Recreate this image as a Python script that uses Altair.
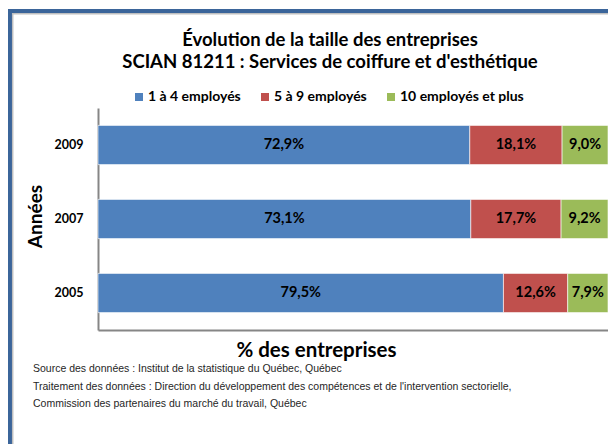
import altair as alt
import pandas as pd

years = ["2009", "2007", "2005"]
categories = ["1 à 4 employés", "5 à 9 employés", "10 employés et plus"]
v_small = [72.9, 73.1, 79.5]
v_mid = [18.1, 17.7, 12.6]
v_large = [9.0, 9.2, 7.9]
colors = ["#4F81BD", "#C0504D", "#9BBB59"]
title_lines = ["Évolution de la taille des entreprises",
               "SCIAN 81211 : Services de coiffure et d'esthétique"]
footer_lines = ["Source des données : Institut de la statistique  du Québec, Québec",
                "Traitement des données : Direction du développement  des compétences  et de l'intervention  sectorielle,",
                "Commission des partenaires du marché du travail, Québec"]

rows = []
for i, yr in enumerate(years):
    for j, (c, vals) in enumerate(zip(categories, [v_small, v_mid, v_large])):
        v = vals[i]
        rows.append({"year": yr, "cat": c, "order": j, "value": v,
                     "label": f"{v:.1f}".replace(".", ",") + "%"})
df = pd.DataFrame(rows)

base = alt.Chart(df).transform_stack(
    stack="value", groupby=["year"], as_=["x0", "x1"],
    sort=[alt.SortField("order", order="ascending")]
).transform_calculate(mid="(datum.x0 + datum.x1) / 2")

yscale = alt.Scale(paddingInner=0.47, paddingOuter=0.235)
xscale = alt.Scale(domain=[0, 100], nice=False, zero=True)

bars = base.mark_bar(stroke="white", strokeWidth=1, strokeOpacity=0.6).encode(
    x=alt.X("x0:Q", scale=xscale, axis=alt.Axis(
        title="% des entreprises", labels=False, ticks=False, grid=False,
        domainColor="#868686", domainWidth=2,
        titleFont="Lato", titleFontSize=20.5, titleFontWeight="bold", titleColor="black",
        titleX=218, titleY=20, titleBaseline="middle", titleAlign="center")),
    x2="x1:Q",
    y=alt.Y("year:N", sort=years, scale=yscale, axis=alt.Axis(
        title="Années", titleFont="Lato", titleFontSize=19, titleFontWeight="bold",
        titleColor="black", titleX=-63, titleY=108, titleAngle=270,
        titleBaseline="middle", titleAlign="center",
        labelFont="Lato", labelFontWeight="bold", labelFontSize=12.5, labelColor="black",
        labelPadding=15, ticks=False, grid=False, labelAngle=0,
        domainColor="#868686", domainWidth=2)),
    color=alt.Color("cat:N", scale=alt.Scale(domain=categories, range=colors),
                    legend=alt.Legend(title=None, orient="none", legendX=34, legendY=-18,
                                      direction="horizontal", symbolType="square",
                                      symbolSize=64, symbolStrokeWidth=0,
                                      labelFont="Lato", labelFontWeight="bold",
                                      labelFontSize=14, labelColor="black",
                                      columnPadding=17, labelOffset=2)),
    order=alt.Order("order:Q"),
)

labels = base.mark_text(font="Lato", fontWeight="bold", fontSize=14.5, color="black").encode(
    x=alt.X("mid:Q", scale=xscale),
    y=alt.Y("year:N", sort=years, scale=yscale),
    text="label:N",
)

one = pd.DataFrame({"k": [0]})
frame_blue_v = alt.Chart(one).mark_rule(color="#3B659A", strokeWidth=4).encode(
    x=alt.value(-88), y=alt.value(-99), y2=alt.value(340))
frame_blue_h = alt.Chart(one).mark_rule(color="#3B659A", strokeWidth=4).encode(
    y=alt.value(-97), x=alt.value(-90), x2=alt.value(520))
frame_gray_v = alt.Chart(one).mark_rule(color="#BFBFBF", strokeWidth=1.5).encode(
    x=alt.value(-85.3), y=alt.value(-95), y2=alt.value(340))
frame_gray_h = alt.Chart(one).mark_rule(color="#BFBFBF", strokeWidth=1.5).encode(
    y=alt.value(-94.3), x=alt.value(-86), x2=alt.value(520))

t1 = alt.Chart(one).mark_text(font="Lato", fontWeight="bold", fontSize=18.5, color="black",
                              align="center", baseline="middle").encode(
    x=alt.value(232), y=alt.value(-68), text=alt.value(title_lines[0]))
t2 = alt.Chart(one).mark_text(font="Lato", fontWeight="bold", fontSize=18.5, color="black",
                              align="center", baseline="middle").encode(
    x=alt.value(232), y=alt.value(-46), text=alt.value(title_lines[1]))

footer = []
for k, (line, yy) in enumerate(zip(footer_lines, [261, 279, 296])):
    footer.append(alt.Chart(one).mark_text(font="Liberation Sans", fontSize=10.5,
                                           color="#262626", align="left", baseline="middle").encode(
        x=alt.value(-65), y=alt.value(yy), text=alt.value(line)))

chart = alt.layer(frame_blue_v, frame_blue_h, frame_gray_v, frame_gray_h,
                  bars, labels, t1, t2, *footer).properties(
    width=510, height=222,
    padding={"left": 90, "top": 100, "right": 0, "bottom": 114},
    autosize=alt.AutoSizeParams(type="none"),
    background="white",
).configure_view(stroke=None)

chart.save("out.html", embed_options={"renderer": "svg", "actions": False})
